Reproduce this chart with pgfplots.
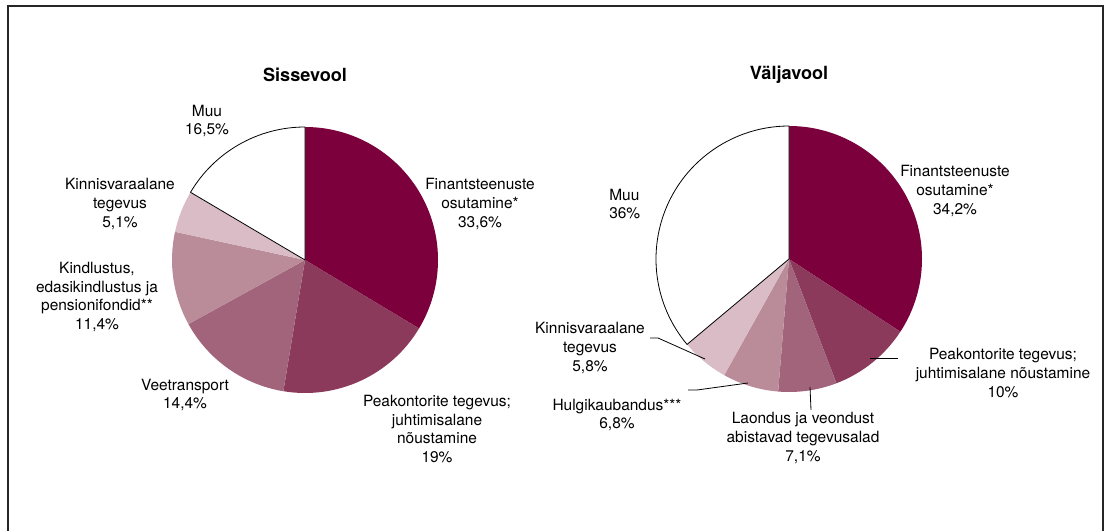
\documentclass[border=0pt]{standalone}
\usepackage{pgfplots}
\pgfplotsset{compat=1.18}
\usepackage{fontspec}
\setmainfont{TeX Gyre Heros}
\definecolor{c1}{RGB}{123,0,60}
\definecolor{c2}{RGB}{139,58,92}
\definecolor{c3}{RGB}{161,100,122}
\definecolor{c4}{RGB}{186,140,154}
\definecolor{c5}{RGB}{217,188,197}
% slice: cx, cy (pixel coords), cumulative share before, share, style
\newcommand{\slice}[5]{%
  \path[#5] (axis cs:#1,#2) -- ++({90-3.6*#3}:\R)
    arc[start angle={90-3.6*#3}, end angle={90-3.6*(#3+#4)}, radius=\R] -- cycle;}
\def\R{99.75pt}
\tikzset{lbl/.style={font=\fontsize{11.6}{13.9}\selectfont, align=center, text=black, inner sep=0pt}}
\begin{document}
\begin{tikzpicture}
\begin{axis}[
  width=828pt, height=398.25pt, scale only axis,
  xmin=0, xmax=1104, ymin=0, ymax=531, y dir=reverse,
  hide axis, clip=false,
]
% frame
\draw[line width=1.2pt, black!85] (axis cs:8,531) -- (axis cs:8,6) -- (axis cs:1103,6) -- (axis cs:1103,531);
% ---- Sissevool: 33.6, 19, 14.4, 11.4, 5.1, 16.5
\slice{305}{260}{0}{33.6}{fill=c1}
\slice{305}{260}{33.6}{19}{fill=c2}
\slice{305}{260}{52.6}{14.4}{fill=c3}
\slice{305}{260}{67.0}{11.4}{fill=c4}
\slice{305}{260}{78.4}{5.1}{fill=c5}
\slice{305}{260}{83.5}{16.5}{fill=white, draw=black, line width=0.6pt}
% ---- Valjavool: 34.2, 10, 7.1, 6.8, 5.8, 36
\slice{789}{259}{0}{34.2}{fill=c1}
\slice{789}{259}{34.2}{10}{fill=c2}
\slice{789}{259}{44.2}{7.1}{fill=c3}
\slice{789}{259}{51.3}{6.8}{fill=c4}
\slice{789}{259}{58.1}{5.8}{fill=c5}
\slice{789}{259}{63.9}{36.1}{fill=white, draw=black, line width=0.6pt}
% titles
\node[lbl, font=\fontsize{13.6}{16}\selectfont\bfseries] at (axis cs:305,75) {Sissevool};
\node[lbl, font=\fontsize{13.6}{16}\selectfont\bfseries] at (axis cs:789,75) {Väljavool};
% left labels
\node[lbl] at (axis cs:207,121) {Muu\\16,5\%};
\node[lbl] at (axis cs:120,204) {Kinnisvaraalane\\tegevus\\5,1\%};
\node[lbl] at (axis cs:97,297) {Kindlustus,\\edasikindlustus ja\\pensionifondid**\\11,4\%};
\node[lbl] at (axis cs:185,395) {Veetransport\\14,4\%};
\node[lbl] at (axis cs:437,429) {Peakontorite tegevus;\\juhtimisalane\\nõustamine\\19\%};
\node[lbl] at (axis cs:480,204) {Finantsteenuste\\osutamine*\\33,6\%};
% right labels
\node[lbl] at (axis cs:955,191) {Finantsteenuste\\osutamine*\\34,2\%};
\node[lbl, align=left, anchor=west] at (axis cs:609,204) {Muu\\36\%};
\node[lbl] at (axis cs:590,348) {Kinnisvaraalane\\tegevus\\5,8\%};
\node[lbl] at (axis cs:617,415) {Hulgikaubandus***\\6,8\%};
\node[lbl] at (axis cs:803,438) {Laondus ja veondust\\abistavad tegevusalad\\7,1\%};
\node[lbl] at (axis cs:1003,373) {Peakontorite tegevus;\\juhtimisalane nõustamine\\10\%};
% leader lines
\draw[black, line width=0.6pt] (axis cs:650,338) -- (axis cs:658,338) -- (axis cs:705,359);
\draw[black, line width=0.6pt] (axis cs:688,390) -- (axis cs:697,390) -- (axis cs:748,383);
\draw[black, line width=0.6pt] (axis cs:810,387) -- (axis cs:811,410);
\draw[black, line width=0.6pt] (axis cs:870,358) -- (axis cs:898,358);
\end{axis}
\pgfresetboundingbox
\path (current axis.south west) rectangle (current axis.north east);
\end{tikzpicture}
\end{document}
